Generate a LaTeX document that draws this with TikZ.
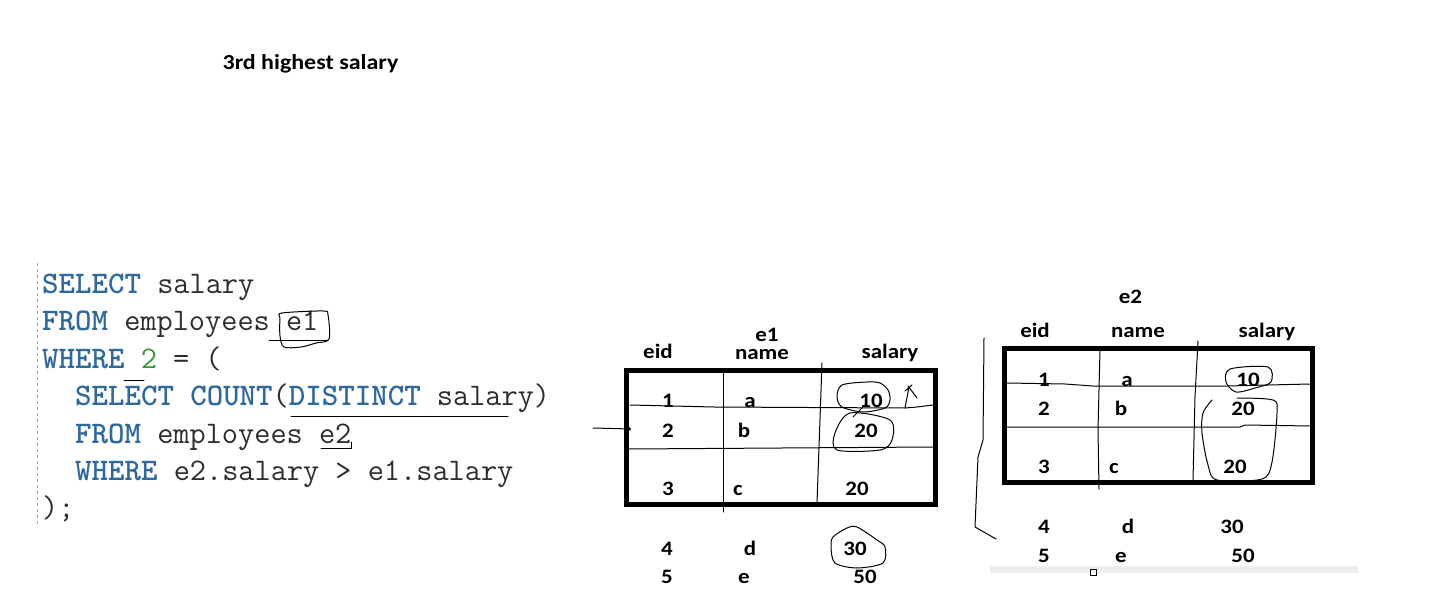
\documentclass[tikz,border=0pt]{standalone}
\usepackage{fontspec}
\usepackage{xcolor}
\usetikzlibrary{arrows.meta}
\newfontfamily\cellfont{Carlito}[FakeStretch=1.12]
\definecolor{sqlkw}{RGB}{48,104,160}
\definecolor{sqlnum}{RGB}{60,150,60}
\definecolor{sqltxt}{RGB}{45,45,45}
\definecolor{barfill}{RGB}{238,238,238}
\definecolor{margin}{RGB}{170,170,170}
\newcommand{\kw}[1]{\textbf{\textcolor{sqlkw}{#1}}}

\begin{document}
\begin{tikzpicture}[x=1pt,y=-1pt,
    cell/.style={anchor=base,inner sep=0pt,font=\cellfont\bfseries\fontsize{20.5}{20.5}\selectfont},
    code/.style={anchor=base west,inner sep=0pt,text=sqltxt,font=\ttfamily\fontsize{31.4}{31.4}\selectfont},
    tbl/.style={draw,line width=5pt,inner sep=0pt},
    pen/.style={line width=1pt,line join=round,line cap=round}]
    \useasboundingbox (0,0) rectangle (1430,591);

    \node (title) at (310.5,70) [cell,font=\cellfont\bfseries\fontsize{21.4}{21.4}\selectfont] {3rd highest salary};

    % query
    \draw[margin,dashed,line width=1pt] (37,263) -- (37,525);
    \node (sql1) at (42,293) [code] {\kw{SELECT} salary};
    \node (sql2) at (42,330) [code] {\kw{FROM} employees e1};
    \node (sql3) at (42,368) [code] {\kw{WHERE} \textcolor{sqlnum}{2} = (};
    \node (sql4) at (75,405) [code] {\kw{SELECT} \kw{COUNT}(\kw{DISTINCT} salary)};
    \node (sql5) at (75,443) [code] {\kw{FROM} employees e2};
    \node (sql6) at (75,480) [code] {\kw{WHERE} e2.salary > e1.salary};
    \node (sql7) at (42,517) [code] {);};

    \draw[pen] (124,380) -- (144,380);
    \draw[pen] (291,416) -- (508,416);
    \draw[pen] (321,448) -- (351,448) -- (351,442);
    \draw[pen] (269,340) -- (328,340);
    \draw[pen] plot[smooth cycle] coordinates {(282,313) (323,311) (328,315) (329,339) (316,343) (301,347) (284,347) (280,336) (280,318)};

    % table e1
    \node (box1) at (780.75,437.5) [tbl,minimum width=309.5pt,minimum height=134pt] {};
    \node (le1) at (767,341) [cell] {e1};
    \node (leid) at (658,358) [cell] {eid};
    \node (lname) at (762,359) [cell] {name};
    \node (lsal) at (890,358) [cell] {salary};
    \node (l1id) at (668,407) [cell] {1};
    \node (l1nm) at (750,407) [cell] {a};
    \node (l1sal) at (871,407) [cell] {10};
    \node (l2id) at (668,437) [cell] {2};
    \node (l2nm) at (744,437) [cell] {b};
    \node (l2sal) at (866,437) [cell] {20};
    \node (l3id) at (668,495) [cell] {3};
    \node (l3nm) at (738,495) [cell] {c};
    \node (l3sal) at (857,495) [cell] {20};
    \node (l4id) at (667,555) [cell] {4};
    \node (l4nm) at (750,555) [cell] {d};
    \node (l4sal) at (855,555) [cell] {30};
    \node (l5id) at (667,583) [cell] {5};
    \node (l5nm) at (744,583) [cell] {e};
    \node (l5sal) at (865,583) [cell] {50};

    \draw[pen] (630,405) -- (714,407) -- (905,408) -- (917,407) -- (933,405);
    \draw[pen] (629,449) -- (934,447);
    \draw[pen] (723,372) -- (723,512);
    \draw[pen] (822,363) -- (817,503);
    \draw[pen] plot[smooth cycle] coordinates {(842,385) (867,382) (880,383) (888,390) (890,400) (885,408) (863,412) (842,407) (837,397)};
    \draw[pen] plot[smooth cycle] coordinates {(850,413) (890,420) (892,440) (880,450) (837,450) (835,433)};
    \draw[pen] (853,417) -- (865,405);
    \draw[pen] (905,408) -- (909,387) (905,391) -- (912,385) (908,386) -- (917,398);
    \draw[pen] plot[smooth cycle] coordinates {(847,528) (857,527) (877,540) (885,547) (883,563) (857,568) (835,563) (831,547) (833,537)};

    \coordinate (arrowtail) at (593,428);
    \coordinate (arrowtip) at (631,429);
    \draw[pen,-{To[length=4pt,width=6pt]}] (arrowtail) -- (arrowtip);

    % table e2
    \node (box2) at (1158.25,415.25) [tbl,minimum width=308.5pt,minimum height=134.5pt] {};
    \node (re2) at (1130.5,303) [cell] {e2};
    \node (reid) at (1035,337) [cell] {eid};
    \node (rname) at (1138,337) [cell] {name};
    \node (rsal) at (1267,337) [cell] {salary};
    \node (r1id) at (1044,386) [cell] {1};
    \node (r1nm) at (1127,386) [cell] {a};
    \node (r1sal) at (1248,386) [cell] {10};
    \node (r2id) at (1044,415) [cell] {2};
    \node (r2nm) at (1121,415) [cell] {b};
    \node (r2sal) at (1243,415) [cell] {20};
    \node (r3id) at (1044,473) [cell] {3};
    \node (r3nm) at (1114,473) [cell] {c};
    \node (r3sal) at (1235,473) [cell] {20};
    \node (r4id) at (1044,533) [cell] {4};
    \node (r4nm) at (1128,533) [cell] {d};
    \node (r4sal) at (1232,533) [cell] {30};
    \node (r5id) at (1044,562) [cell] {5};
    \node (r5nm) at (1121,562) [cell] {e};
    \node (r5sal) at (1243,562) [cell] {50};

    \draw[pen] (1007,383) -- (1065,384) -- (1093,386) -- (1227,386) -- (1310,384);
    \draw[pen] (1006,427) -- (1240,427) -- (1245,425) -- (1311,426);
    \draw[pen] (1100,350) -- (1098,430) -- (1099,489);
    \draw[pen] (1198,341) -- (1195,397) -- (1193,480);
    \draw[pen] (984,338) -- (983,440) -- (978,457) -- (975,527) -- (996,539);
    \draw[pen] plot[smooth cycle] coordinates {(1230,369) (1268,367) (1271,382) (1255,388) (1236,392) (1226,382)};
    \draw[pen] plot[smooth] coordinates {(1212,400) (1203,413) (1202,433) (1208,465) (1217,480) (1262,479) (1272,462) (1277,413) (1273,400) (1237,398)};

    \fill[barfill] (990,566) rectangle (1358,573);
    \draw[line width=0.8pt] (1090,569) rectangle (1096,575);
\end{tikzpicture}
\end{document}
